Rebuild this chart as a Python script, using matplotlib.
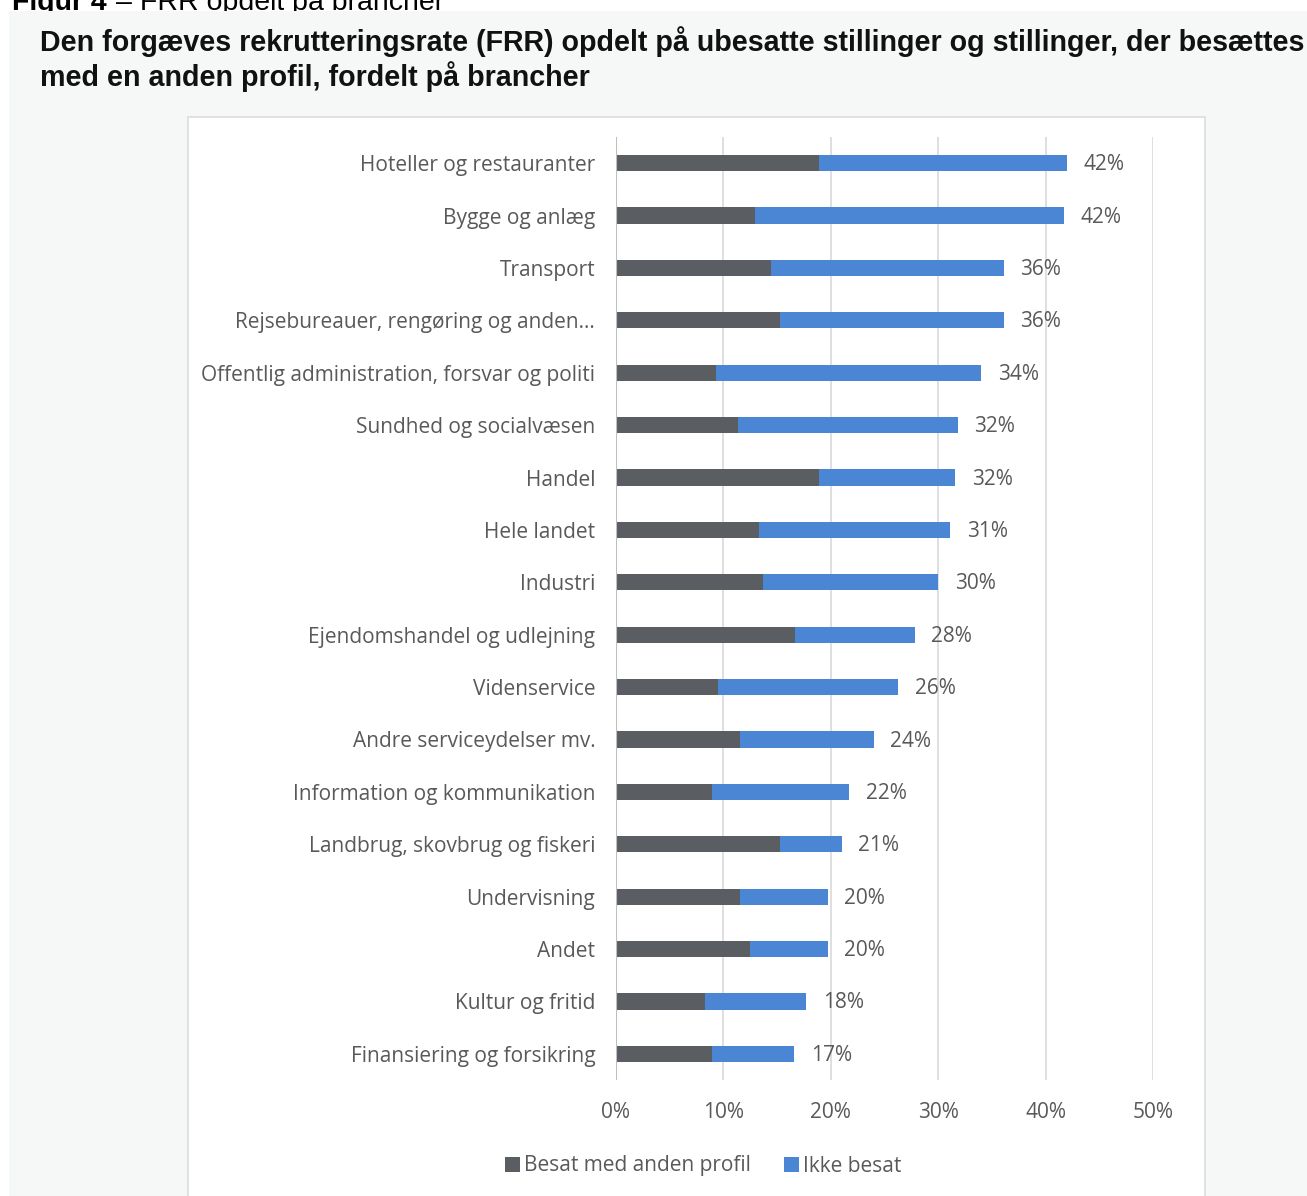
import numpy as np
import matplotlib.pyplot as plt
from matplotlib.patches import Rectangle

brancher = ["Hoteller og restauranter", "Bygge og anlæg", "Transport",
            "Rejsebureauer, rengøring og anden…", "Offentlig administration, forsvar og politi",
            "Sundhed og socialvæsen", "Handel", "Hele landet", "Industri",
            "Ejendomshandel og udlejning", "Videnservice", "Andre serviceydelser mv.",
            "Information og kommunikation", "Landbrug, skovbrug og fiskeri",
            "Undervisning", "Andet", "Kultur og fritid", "Finansiering og forsikring"]
besat_anden = [18.9, 12.9, 14.4, 15.3, 9.3, 11.4, 18.9, 13.3, 13.7,
               16.7, 9.5, 11.5, 8.9, 15.3, 11.5, 12.5, 8.3, 8.9]
ikke_besat = [23.1, 28.8, 21.7, 20.8, 24.7, 20.4, 12.7, 17.8, 16.3,
              11.1, 16.8, 12.5, 12.8, 5.7, 8.2, 7.2, 9.4, 7.7]
labels = ["42%", "42%", "36%", "36%", "34%", "32%", "32%", "31%", "30%",
          "28%", "26%", "24%", "22%", "21%", "20%", "20%", "18%", "17%"]
xticks = [0, 10, 20, 30, 40, 50]

W, H = 1307, 1196
fig = plt.figure(figsize=(W/100, H/100), dpi=100, facecolor="white")

def fx(px): return px / W
def fy(py): return 1 - py / H

# baggrund og diagramboks
fig.patches.append(Rectangle((fx(9), 0), fx(W - 9), fy(11), transform=fig.transFigure,
                             facecolor="#f6f7f7", edgecolor="none", zorder=0.8))
fig.patches.append(Rectangle((fx(188), fy(1200)), fx(1205 - 188), fy(117) - fy(1200),
                             transform=fig.transFigure, facecolor="white",
                             edgecolor="#dcdcdc", linewidth=1.2, zorder=1))

# overskrift (afskåret i toppen som i originalen)
fig.text(fx(12), fy(10), "Figur 4", fontsize=20.5, fontweight="bold", family="Liberation Sans",
         va="baseline", color="black", zorder=0.5)
fig.text(fx(116), fy(10), "– FRR opdelt på brancher", fontsize=20.5, family="Liberation Sans",
         va="baseline", color="black", zorder=0.5)
fig.text(fx(40), fy(42), "Den forgæves rekrutteringsrate (FRR) opdelt på ubesatte stillinger og stillinger, der besættes",
         fontsize=20.6, fontweight="bold", family="Liberation Sans", va="center", color="#111111", zorder=3)
fig.text(fx(40), fy(77), "med en anden profil, fordelt på brancher",
         fontsize=20.6, fontweight="bold", family="Liberation Sans", va="center", color="#111111", zorder=3)

ax = fig.add_axes([fx(616), fy(1080), fx(1153 - 616), fy(137) - fy(1080)])
ax.set_zorder(2)
ax.set_facecolor("none")
y = np.arange(len(brancher))
gray = "#5a5e62"
blue = "#4a86d3"
ax.barh(y, besat_anden, height=0.31, color=gray, label="Besat med anden profil", zorder=3)
ax.barh(y, ikke_besat, left=besat_anden, height=0.31, color=blue, label="Ikke besat", zorder=3)
tot = np.array(besat_anden) + np.array(ikke_besat)
for yi, t, lab in zip(y, tot, labels):
    ax.text(t + 1.55, yi + 0.03, lab, va="center", ha="left", fontsize=15, color="#595959",
            family="Open Sans")

ax.set_xlim(0, 50)
ax.set_ylim(17.5, -0.5)
ax.set_xticks(xticks)
ax.set_xticklabels([f"{v}%" for v in xticks])
ax.set_yticks(y)
ax.set_yticklabels(brancher)
for s in ax.spines.values():
    s.set_visible(False)
ax.xaxis.grid(True, color="#d9d9d9", linewidth=1.2, zorder=0)
ax.axvline(0, color="#bfbfbf", linewidth=1.5, zorder=4)
ax.tick_params(axis="both", length=0, labelsize=15, labelcolor="#595959")
ax.tick_params(axis="y", pad=15)
ax.tick_params(axis="x", pad=16)
for t in ax.get_xticklabels() + ax.get_yticklabels():
    t.set_family("Open Sans")

leg = fig.legend(loc="center", bbox_to_anchor=(fx(703), fy(1166)), ncol=2, frameon=False,
                 handlelength=0.7, handleheight=0.7, handletextpad=0.2,
                 columnspacing=1.6, prop={"family": "Open Sans", "size": 15})
leg.set_zorder(3)
for t in leg.get_texts():
    t.set_color("#595959")

fig.savefig("out.png", dpi=100, facecolor="white")
